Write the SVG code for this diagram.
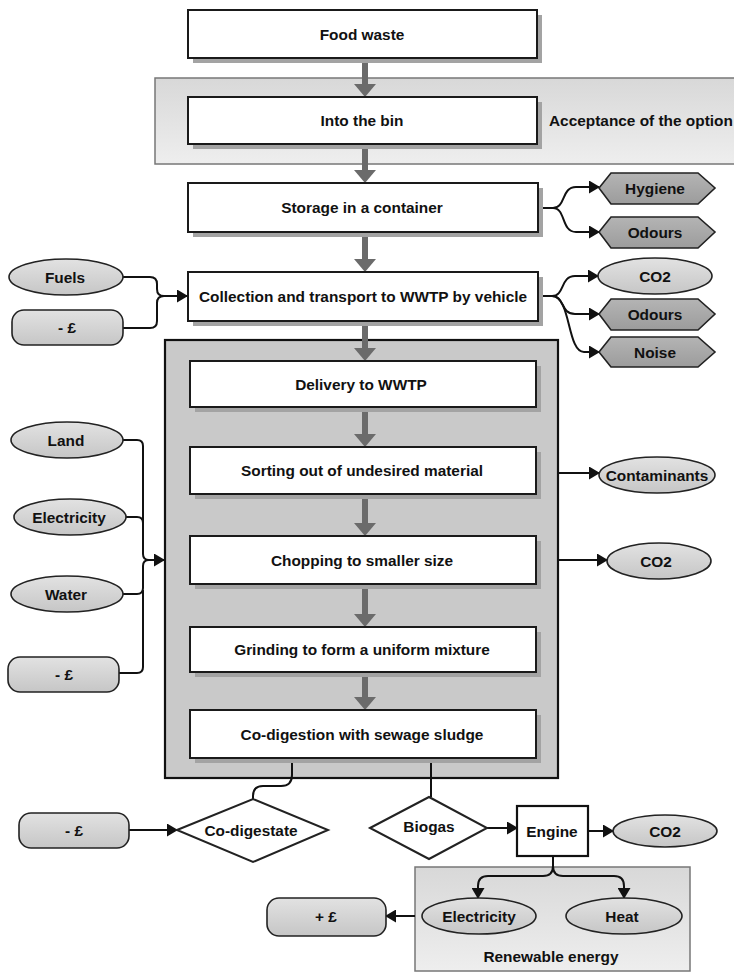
<svg xmlns="http://www.w3.org/2000/svg" width="734" height="972" viewBox="0 0 734 972">
<defs>
<linearGradient id="gPanel" x1="0" y1="0" x2="0" y2="1"><stop offset="0" stop-color="#d8d8d8"/><stop offset="1" stop-color="#eeeeee"/></linearGradient>
<linearGradient id="gEll" x1="0" y1="0" x2="0" y2="1"><stop offset="0" stop-color="#e2e2e2"/><stop offset="1" stop-color="#c6c6c6"/></linearGradient>
<linearGradient id="gHex" x1="0" y1="0" x2="0" y2="1"><stop offset="0" stop-color="#b4b4b4"/><stop offset="1" stop-color="#9c9c9c"/></linearGradient>
<marker id="ah" markerUnits="userSpaceOnUse" markerWidth="11" markerHeight="13" refX="10" refY="6.5" orient="auto"><path d="M0,0 L11,6.5 L0,13 z" fill="#111"/></marker>
<g id="bigArrow"><rect x="-3" y="0" width="6" height="27" fill="#6b6b6b"/><path d="M-11,26 L11,26 L0,39 z" fill="#6b6b6b"/></g>
</defs>
<style>
.box{fill:#fff;stroke:#1a1a1a;stroke-width:2}
.sh{fill:#a3a3a3}
.ell{fill:url(#gEll);stroke:#222;stroke-width:1.6}
.hex{fill:url(#gHex);stroke:#222;stroke-width:1.6}
.rr{fill:url(#gEll);stroke:#222;stroke-width:1.6}
.panel{fill:url(#gPanel);stroke:#777;stroke-width:1.5}
.con{fill:none;stroke:#111;stroke-width:2;marker-end:url(#ah)}
.ln{fill:none;stroke:#111;stroke-width:2}
text{font-family:"Liberation Sans",Arial,sans-serif;font-weight:bold;font-size:15.4px;fill:#111;text-anchor:middle}
</style>
<rect width="734" height="972" fill="#fff"/>

<g id="acceptance-panel"><rect class="panel" x="155" y="78" width="585" height="86"/><text x="549" y="126" style="text-anchor:start">Acceptance of the option</text></g>
<g id="process-panel"><rect x="165" y="340" width="393" height="438" fill="#c9c9c9" stroke="#111" stroke-width="2.2"/></g>
<g id="renewable-panel"><rect class="panel" x="415" y="867" width="275" height="104"/><text x="551" y="962">Renewable energy</text></g>

<g id="connectors">
<use href="#bigArrow" x="365" y="58"/>
<use href="#bigArrow" x="365" y="144"/>
<use href="#bigArrow" x="365" y="233"/>
<use href="#bigArrow" x="365" y="322"/>
<use href="#bigArrow" x="365" y="408"/>
<use href="#bigArrow" x="365" y="497"/>
<use href="#bigArrow" x="365" y="588"/>
<use href="#bigArrow" x="365" y="671"/>
<path class="con" d="M538,208 H553 C566,208 561,187 576,187 H599"/>
<path class="con" d="M538,208 H553 C566,208 561,232 576,232 H599"/>
<path class="con" d="M538,296 H552 C565,296 560,276 575,276 H598"/>
<path class="con" d="M538,296 H552 C565,296 560,314 575,314 H599"/>
<path class="con" d="M552,296 C571,296 567,352 584,352 H599"/>
<path class="ln" d="M123,277 H150 Q157,277 157,284 V289 Q157,296 164,296"/>
<path class="ln" d="M123,328 H150 Q157,328 157,321 V303 Q157,296 164,296"/>
<path class="con" d="M162,296 H187"/>
<path class="ln" d="M123,440 H137 Q143,440 143,446 V554 Q143,560 149,560"/>
<path class="ln" d="M126,517 H137 Q143,517 143,523"/>
<path class="ln" d="M123,594 H137 Q143,594 143,588 V566 Q143,560 149,560"/>
<path class="ln" d="M119,673 H137 Q143,673 143,667 V590"/>
<path class="con" d="M148,560 H164"/>
<path class="con" d="M558,473 H599"/>
<path class="con" d="M558,560 H607"/>
<path class="ln" d="M292,759 V775 Q292,786 281,786 H263 Q253,786 253,796 V800"/>
<path class="ln" d="M431,759 V797"/>
<path class="con" d="M129,830 H177"/>
<path class="con" d="M487,828 H517"/>
<path class="con" d="M588,831 H613"/>
<path class="con" d="M553,856 V866 Q553,876 543,876 H488 Q478,876 478,886 V898"/>
<path class="con" d="M553,866 Q553,876 563,876 H614 Q624,876 624,886 V898"/>
<path class="con" d="M415,916 H386"/>
</g>

<g id="food-waste"><rect class="sh" x="193" y="15" width="349" height="48"/><rect class="box" x="188" y="10" width="349" height="48"/><text x="362" y="40">Food waste</text></g>
<g id="into-bin"><rect class="sh" x="193" y="102" width="349" height="47"/><rect class="box" x="188" y="97" width="349" height="47"/><text x="362" y="126">Into the bin</text></g>
<g id="storage"><rect class="sh" x="193" y="188" width="350" height="49"/><rect class="box" x="188" y="183" width="350" height="49"/><text x="362" y="213">Storage in a container</text></g>
<g id="collection"><rect class="sh" x="193" y="277" width="350" height="49"/><rect class="box" x="188" y="272" width="350" height="49"/><text x="363" y="302">Collection and transport to WWTP by vehicle</text></g>

<g id="hygiene"><polygon class="hex" points="599,188 611,173 698,173 715,188 698,204 611,204"/><text x="655" y="194">Hygiene</text></g>
<g id="odours1"><polygon class="hex" points="599,232 611,217 698,217 715,232 698,248 611,248"/><text x="655" y="238">Odours</text></g>
<g id="co2-transport"><ellipse class="ell" cx="655" cy="276" rx="57" ry="18"/><text x="655" y="282">CO2</text></g>
<g id="odours2"><polygon class="hex" points="599,314 611,299 698,299 715,314 698,330 611,330"/><text x="655" y="320">Odours</text></g>
<g id="noise"><polygon class="hex" points="599,352 611,337 698,337 715,352 698,367 611,367"/><text x="655" y="358">Noise</text></g>

<g id="fuels"><ellipse class="ell" cx="66" cy="277" rx="57" ry="18"/><text x="65" y="283">Fuels</text></g>
<g id="cost-transport"><rect class="rr" x="12" y="310" width="111" height="35" rx="12"/><text x="67" y="333">- £</text></g>

<g id="delivery"><rect class="sh" x="195" y="366" width="346" height="46"/><rect class="box" x="190" y="361" width="346" height="46"/><text x="361" y="390">Delivery to WWTP</text></g>
<g id="sorting"><rect class="sh" x="195" y="452" width="346" height="47"/><rect class="box" x="190" y="447" width="346" height="47"/><text x="362" y="476">Sorting out of undesired material</text></g>
<g id="chopping"><rect class="sh" x="195" y="541" width="346" height="48"/><rect class="box" x="190" y="536" width="346" height="48"/><text x="362" y="566">Chopping to smaller size</text></g>
<g id="grinding"><rect class="sh" x="195" y="632" width="346" height="45"/><rect class="box" x="190" y="627" width="346" height="45"/><text x="362" y="655">Grinding to form a uniform mixture</text></g>
<g id="codigestion"><rect class="sh" x="195" y="715" width="346" height="48"/><rect class="box" x="190" y="710" width="346" height="48"/><text x="362" y="740">Co-digestion with sewage sludge</text></g>

<g id="contaminants"><ellipse class="ell" cx="657" cy="475" rx="58" ry="18"/><text x="657" y="481">Contaminants</text></g>
<g id="co2-chopping"><ellipse class="ell" cx="659" cy="561" rx="52" ry="18"/><text x="656" y="567">CO2</text></g>

<g id="land"><ellipse class="ell" cx="67" cy="440" rx="56" ry="18"/><text x="66" y="446">Land</text></g>
<g id="electricity-in"><ellipse class="ell" cx="70" cy="517" rx="56" ry="18"/><text x="69" y="523">Electricity</text></g>
<g id="water"><ellipse class="ell" cx="67" cy="594" rx="56" ry="18"/><text x="66" y="600">Water</text></g>
<g id="cost-process"><rect class="rr" x="8" y="657" width="111" height="35" rx="12"/><text x="64" y="680">- £</text></g>

<g id="co-digestate"><polygon points="177,830 253,799 328,830 253,862" fill="#fff" stroke="#222" stroke-width="2"/><text x="251" y="836">Co-digestate</text></g>
<g id="cost-digestate"><rect class="rr" x="19" y="813" width="110" height="35" rx="12"/><text x="74" y="836">- £</text></g>
<g id="biogas"><polygon points="370,828 429,797 487,828 429,859" fill="#fff" stroke="#222" stroke-width="2"/><text x="429" y="832">Biogas</text></g>
<g id="engine"><rect x="517" y="806" width="71" height="50" fill="#fff" stroke="#111" stroke-width="2.2"/><text x="552" y="837">Engine</text></g>
<g id="co2-engine"><ellipse class="ell" cx="665" cy="831" rx="52" ry="16"/><text x="665" y="837">CO2</text></g>
<g id="electricity-out"><ellipse class="ell" cx="479" cy="916" rx="57" ry="18"/><text x="479" y="922">Electricity</text></g>
<g id="heat"><ellipse class="ell" cx="624" cy="916" rx="58" ry="18"/><text x="622" y="922">Heat</text></g>
<g id="revenue"><rect class="rr" x="267" y="898" width="119" height="38" rx="12"/><text x="326" y="922">+ £</text></g>
</svg>
